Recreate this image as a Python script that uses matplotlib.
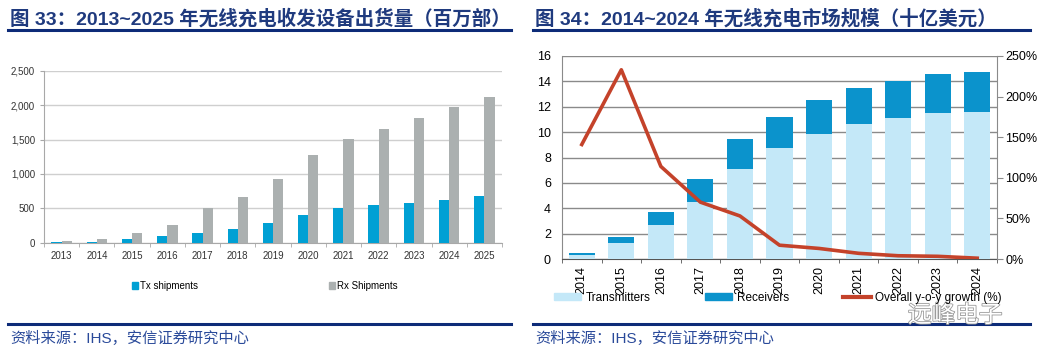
import numpy as np
import matplotlib
matplotlib.use("Agg")
import matplotlib.pyplot as plt
from matplotlib.patches import Patch
from matplotlib.lines import Line2D
from matplotlib.ticker import FuncFormatter, FixedLocator
import matplotlib.patheffects as pe

plt.rcParams['font.family'] = ['Liberation Sans', 'Noto Sans CJK SC', 'DejaVu Sans']

# --- data: figure 33, shipments (million units)
years_33 = ['2013', '2014', '2015', '2016', '2017', '2018', '2019',
            '2020', '2021', '2022', '2023', '2024', '2025']
tx_ship = [3, 6, 55, 97, 145, 199, 291, 403, 500, 544, 581, 620, 683]
rx_ship = [25, 58, 145, 257, 500, 660, 926, 1279, 1507, 1648, 1817, 1972, 2113]

# --- data: figure 34, market size (billion USD) and yoy growth (%)
years_34 = ['2014', '2015', '2016', '2017', '2018', '2019',
            '2020', '2021', '2022', '2023', '2024']
transmitters = [0.30, 1.24, 2.68, 4.47, 7.10, 8.72, 9.85, 10.64, 11.11, 11.48, 11.58]
receivers = [0.15, 0.47, 1.02, 1.81, 2.38, 2.45, 2.65, 2.81, 2.92, 3.07, 3.13]
yoy_growth = [141, 233, 114, 70, 53, 17, 13, 7, 4, 3.3, 1]

W, H = 1048, 357
fig = plt.figure(figsize=(W / 100, H / 100), dpi=100)


def fx(px):
    return px / W


def fy(py):
    return 1 - py / H


navy = '#1f3a7e'
rule = '#0d2b78'

# titles, rules and source lines
fig.text(fx(10), fy(19), '图 33：2013~2025 年无线充电收发设备出货量（百万部）',
         fontsize=14, fontweight='bold', color=navy, va='center', ha='left')
fig.text(fx(535), fy(19), '图 34：2014~2024 年无线充电市场规模（十亿美元）',
         fontsize=14, fontweight='bold', color=navy, va='center', ha='left')
for x0, x1 in [(8, 511), (533, 1030)]:
    for yy in (30, 324):
        fig.add_artist(Line2D([fx(x0), fx(x1)], [fy(yy), fy(yy)],
                              color=rule, lw=2.2, transform=fig.transFigure))
fig.text(fx(10), fy(338), '资料来源：IHS，安信证券研究中心', fontsize=11,
         color='#2a4a9a', va='center', ha='left')
fig.text(fx(535), fy(338), '资料来源：IHS，安信证券研究中心', fontsize=11,
         color='#2a4a9a', va='center', ha='left')

# ---------------- left chart
ax1 = fig.add_axes([fx(44), fy(242.7), fx(502 - 44), (242.7 - 70.7) / H])
x1 = np.arange(len(years_33))
bw = 0.29
tx_c, rx_c = '#00a0d4', '#abb0b0'
ax1.bar(x1 - bw / 2, tx_ship, bw, color=tx_c, zorder=3)
ax1.bar(x1 + bw / 2, rx_ship, bw, color=rx_c, zorder=3)
ax1.set_ylim(0, 2500)
ax1.set_xlim(-0.5, len(years_33) - 0.5)
ax1.set_yticks(np.arange(0, 2501, 500))
ax1.yaxis.set_major_formatter(FuncFormatter(lambda v, p: f'{int(v):,}'))
ax1.grid(axis='y', color='#cfcfcf', lw=1, zorder=0)
for s in ['top', 'right']:
    ax1.spines[s].set_visible(False)
for s in ['left', 'bottom']:
    ax1.spines[s].set_color('#a8a8a8')
ax1.set_xticks(x1)
ax1.set_xticklabels(years_33)
ax1.xaxis.set_minor_locator(FixedLocator(np.arange(-0.5, len(years_33), 1)))
ax1.tick_params(axis='x', which='major', length=0, labelsize=7, colors='#333333', pad=6)
ax1.tick_params(axis='x', which='minor', length=3, color='#a8a8a8')
ax1.tick_params(axis='y', length=3, color='#a8a8a8', labelsize=7, labelcolor='#333333')
h1 = [Patch(color=tx_c, label='Tx shipments'), Patch(color=rx_c, label='Rx Shipments')]
fig.legend(handles=h1, loc='center left', bbox_to_anchor=(fx(132), fy(286)), ncol=2,
           frameon=False, fontsize=7, handlelength=0.6, handleheight=0.6,
           handletextpad=0.2, columnspacing=13.5, borderpad=0, borderaxespad=0)

# ---------------- right chart
ax2 = fig.add_axes([fx(562), fy(259), fx(997 - 562), (259 - 56) / H])
x2 = np.arange(len(years_34))
bw2 = 0.66
tr_c, re_c, ln_c = '#c4e8f8', '#0b93cc', '#c4422a'
ax2.bar(x2, transmitters, bw2, color=tr_c, zorder=3)
ax2.bar(x2, receivers, bw2, bottom=transmitters, color=re_c, zorder=3)
ax2.set_ylim(0, 16)
ax2.set_xlim(-0.5, len(years_34) - 0.5)
ax2.set_yticks(np.arange(0, 17, 2))
ax2.grid(axis='y', color='#8a8a8a', lw=1, zorder=0)
ax2.spines['top'].set_visible(False)
ax2.spines['right'].set_visible(False)
ax2.spines['left'].set_color('#8a8a8a')
ax2.spines['bottom'].set_color('#555555')
ax2.set_xticks(x2)
ax2.set_xticklabels(years_34, rotation=90)
ax2.xaxis.set_minor_locator(FixedLocator(np.arange(-0.5, len(years_34), 1)))
ax2.tick_params(axis='x', which='major', length=0, labelsize=9, pad=5)
ax2.tick_params(axis='x', which='minor', length=3, color='#555555')
ax2.tick_params(axis='y', length=0, labelsize=9, pad=8)

ax3 = ax2.twinx()
ax3.plot(x2, yoy_growth, color=ln_c, lw=2.6, zorder=5)
ax3.set_ylim(0, 250)
ax3.set_yticks(np.arange(0, 251, 50))
ax3.yaxis.set_major_formatter(FuncFormatter(lambda v, p: f'{int(v)}%'))
for s in ['top', 'left', 'bottom']:
    ax3.spines[s].set_visible(False)
ax3.spines['right'].set_color('#8a8a8a')
ax3.tick_params(axis='y', length=4, color='#8a8a8a', labelsize=9, pad=2)

h2 = [Patch(color=tr_c, label='Transmitters'), Patch(color=re_c, label='Receivers'),
      Line2D([], [], color=ln_c, lw=3, label='Overall y-o-y growth (%)')]
fig.legend(handles=h2, loc='center left', bbox_to_anchor=(fx(554), fy(298)), ncol=3,
           frameon=False, fontsize=8.5, handlelength=2.3, handleheight=0.5,
           handletextpad=0.4, columnspacing=4.6, borderpad=0, borderaxespad=0)

# watermark
fig.text(fx(908), fy(316), '远峰电子', fontsize=17, color='white', va='center',
         ha='left', path_effects=[pe.withStroke(linewidth=1.2, foreground='#9a9a9a')])

fig.savefig('out.png', dpi=100)
